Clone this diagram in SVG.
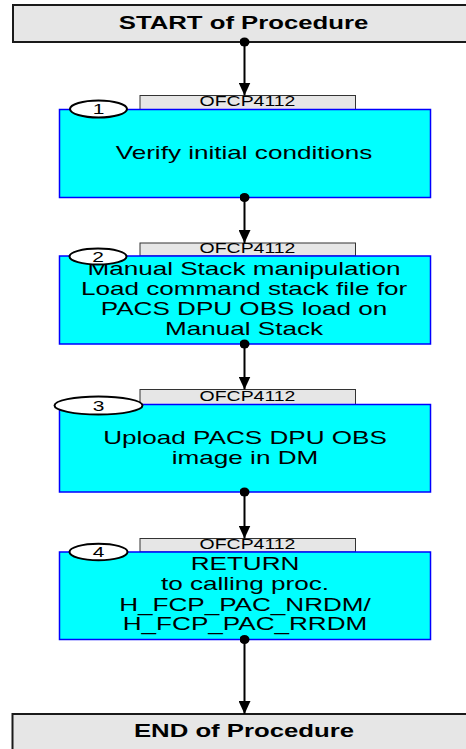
<svg xmlns="http://www.w3.org/2000/svg" width="466" height="749" viewBox="0 0 466 749">
<style>
.term{fill:#e6e6e6;stroke:#1a1a1a;stroke-width:2}
.termt{font-family:"Liberation Sans",Arial,sans-serif;font-weight:bold;font-size:18px;fill:#000;text-anchor:middle}
.tab{fill:#e6e6e6;stroke:#333;stroke-width:1}
.tabt{font-family:"Liberation Sans",Arial,sans-serif;font-size:13.8px;fill:#000;text-anchor:middle}
.box{fill:#00ffff;stroke:#0000ff;stroke-width:1.5}
.boxt{font-family:"Liberation Sans",Arial,sans-serif;font-size:18.5px;fill:#000;text-anchor:middle}
.num{fill:#fff;stroke:#000;stroke-width:2}
.numt{font-family:"Liberation Sans",Arial,sans-serif;font-size:15px;fill:#000;text-anchor:middle}
.edge{stroke:#000;stroke-width:2;fill:none;marker-end:url(#arr);marker-start:url(#dot)}
</style>
<defs>
<marker id="arr" markerUnits="userSpaceOnUse" markerWidth="14" markerHeight="12" refX="13" refY="6" orient="auto"><path d="M0,0 L13,6 L0,12 Z" fill="#000"/></marker>
<marker id="dot" markerUnits="userSpaceOnUse" markerWidth="12" markerHeight="10" refX="6" refY="5" orient="auto"><ellipse cx="6" cy="5" rx="4.5" ry="5" fill="#000"/></marker>
<clipPath id="clip2"><rect x="60" y="262" width="370" height="82"/></clipPath>
</defs>

<g id="start">
<rect class="term" x="13" y="5" width="470" height="37"/>
<text class="termt" transform="translate(243.5,28.5) scale(1.43,1)">START of Procedure</text>
</g>

<g id="step1">
<rect class="tab" x="140" y="95.5" width="215.5" height="14"/>
<text class="tabt" transform="translate(247.5,106) scale(1.41,1)">OFCP4112</text>
<rect class="box" x="59.5" y="109.5" width="371" height="88"/>
<text class="boxt" transform="translate(244,158.5) scale(1.41,1)">Verify initial conditions</text>
<ellipse class="num" cx="98.5" cy="109" rx="28.5" ry="8.5"/>
<text class="numt" transform="translate(98.5,114) scale(1.4,1)">1</text>
</g>

<g id="step2">
<rect class="tab" x="140" y="243" width="215.5" height="13"/>
<text class="tabt" transform="translate(247.5,253) scale(1.41,1)">OFCP4112</text>
<rect class="box" x="59.5" y="256" width="371" height="88"/>
<g clip-path="url(#clip2)">
<text class="boxt" transform="translate(244,274.5) scale(1.41,1)">Manual Stack manipulation</text>
</g>
<text class="boxt" transform="translate(244,295) scale(1.41,1)">Load command stack file for</text>
<text class="boxt" transform="translate(244,315) scale(1.41,1)">PACS DPU OBS load on</text>
<text class="boxt" transform="translate(244,334.5) scale(1.41,1)">Manual Stack</text>
<ellipse class="num" cx="98" cy="256.5" rx="28.5" ry="8"/>
<text class="numt" transform="translate(98,261.5) scale(1.4,1)">2</text>
</g>

<g id="step3">
<rect class="tab" x="140" y="389.5" width="215.5" height="15"/>
<text class="tabt" transform="translate(247.5,400.5) scale(1.41,1)">OFCP4112</text>
<rect class="box" x="59.5" y="404.5" width="371" height="87.5"/>
<text class="boxt" transform="translate(245,443.5) scale(1.41,1)">Upload PACS DPU OBS</text>
<text class="boxt" transform="translate(245,463.5) scale(1.41,1)">image in DM</text>
<ellipse class="num" cx="98.5" cy="405.5" rx="44" ry="9"/>
<text class="numt" transform="translate(98.5,410.5) scale(1.4,1)">3</text>
</g>

<g id="step4">
<rect class="tab" x="140" y="538.5" width="215.5" height="13.5"/>
<text class="tabt" transform="translate(247.5,549) scale(1.41,1)">OFCP4112</text>
<rect class="box" x="59.5" y="552" width="371" height="87.5"/>
<text class="boxt" transform="translate(245,570) scale(1.41,1)">RETURN</text>
<text class="boxt" transform="translate(245,590) scale(1.41,1)">to calling proc.</text>
<text class="boxt" transform="translate(245,610.5) scale(1.41,1)">H_FCP_PAC_NRDM/</text>
<text class="boxt" transform="translate(245,629.5) scale(1.41,1)">H_FCP_PAC_RRDM</text>
<ellipse class="num" cx="98.5" cy="552" rx="29" ry="8.3"/>
<text class="numt" transform="translate(98.5,557) scale(1.4,1)">4</text>
</g>

<g id="end">
<rect class="term" x="12.5" y="714" width="470" height="50"/>
<text class="termt" transform="translate(244,736.5) scale(1.43,1)">END of Procedure</text>
</g>

<g id="connectors">
<path class="edge" d="M244.5,42 L244.5,95.5"/>
<path class="edge" d="M244.5,197.5 L244.5,243"/>
<path class="edge" d="M244.5,344 L244.5,389.5"/>
<path class="edge" d="M244.5,492 L244.5,538.5"/>
<path class="edge" d="M244.5,639.5 L244.5,714"/>
</g>
</svg>
